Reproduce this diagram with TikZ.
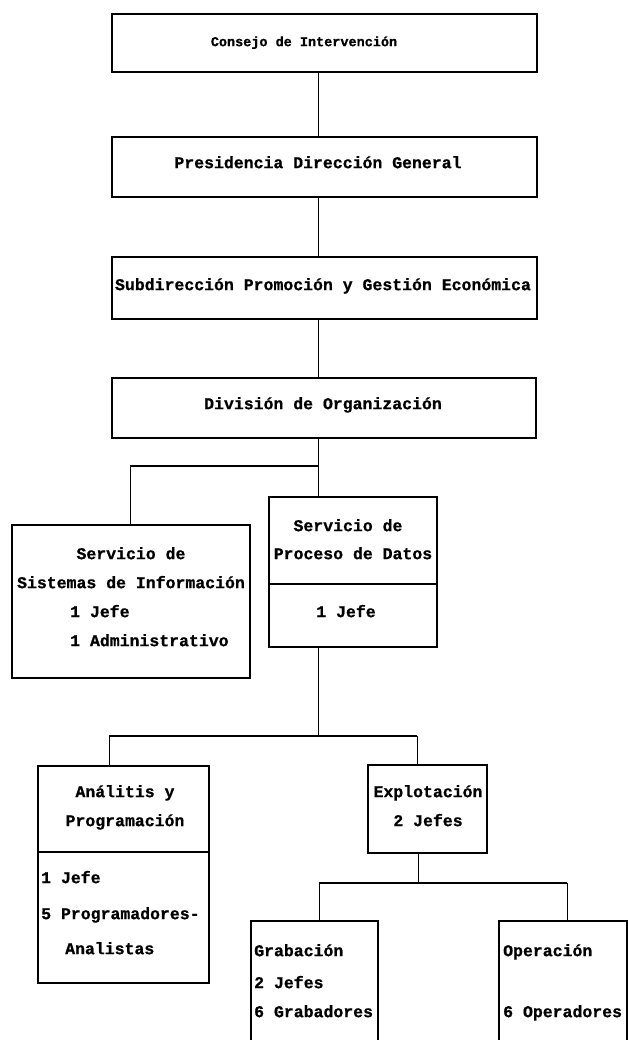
\documentclass[tikz,border=0pt]{standalone}
\usepackage{fontspec}
\setmonofont[FakeBold=0.8]{Liberation Mono}
\begin{document}
\begin{tikzpicture}[x=1pt,y=-1pt,
  box/.style={draw,line width=1.6pt,rectangle,inner sep=0pt},
  divline/.style={line width=1.6pt},
  conn/.style={line width=1pt},
  bar/.style={line width=2pt},
  txt/.style={inner sep=0pt,font=\ttfamily\bfseries\fontsize{16.5}{18}\selectfont},
  lt/.style={txt,anchor=mid west,yshift=-2pt},
  ct/.style={txt,anchor=mid,yshift=-2pt}]
\useasboundingbox (0,0) rectangle (628,1040);
\begin{scope}
\clip (0,0) rectangle (628,1040);
% boxes
\node[box,minimum width=425pt,minimum height=58pt] (cons) at (324.5,43) {};
\node[box,minimum width=425pt,minimum height=60pt] (pres) at (324.5,167) {};
\node[box,minimum width=425pt,minimum height=62pt] (subd) at (324.5,288) {};
\node[box,minimum width=424pt,minimum height=60pt] (divi) at (324,408) {};
\node[box,minimum width=238pt,minimum height=153pt] (sist) at (131,601.5) {};
\node[box,minimum width=168pt,minimum height=150pt] (proc) at (353,572) {};
\node[box,minimum width=171pt,minimum height=217pt] (anal) at (123.5,874.5) {};
\node[box,minimum width=119pt,minimum height=88pt] (expl) at (427.5,809) {};
\node[box,minimum width=127pt,minimum height=125pt] (grab) at (314.5,983.5) {};
\node[box,minimum width=128pt,minimum height=125pt] (oper) at (563,983.5) {};
% dividers
\coordinate (pdiv) at (0,584);
\draw[divline] (proc.west |- pdiv) -- (proc.east |- pdiv);
\coordinate (adiv) at (0,852);
\draw[divline] (anal.west |- adiv) -- (anal.east |- adiv);
% connectors
\coordinate (s1) at (318,0);
\draw[conn] (cons.south -| s1) -- (pres.north -| s1);
\draw[conn] (pres.south -| s1) -- (subd.north -| s1);
\draw[conn] (subd.south -| s1) -- (divi.north -| s1);
\draw[conn] (divi.south -| s1) -- (proc.north -| s1);
\coordinate (j1) at (318,466);
\coordinate (x1) at (130,0);
\draw[bar] (j1) -- (j1 -| x1);
\draw[conn] (j1 -| x1) -- (sist.north -| x1);
\coordinate (j2) at (318,736);
\draw[conn] (proc.south -| s1) -- (j2);
\coordinate (x2) at (109,0);
\coordinate (x3) at (417,0);
\draw[bar] (j2 -| x2) -- (j2 -| x3);
\draw[conn] (j2 -| x2) -- (anal.north -| x2);
\draw[conn] (j2 -| x3) -- (expl.north -| x3);
\coordinate (j3) at (418,883);
\draw[conn] (expl.south -| j3) -- (j3);
\coordinate (x4) at (319,0);
\coordinate (x5) at (567,0);
\draw[bar] (j3 -| x4) -- (j3 -| x5);
\draw[conn] (j3 -| x4) -- (grab.north -| x4);
\draw[conn] (j3 -| x5) -- (oper.north -| x5);
% texts
\node[ct,font=\ttfamily\bfseries\fontsize{13.5}{15}\selectfont] (t1) at (304,42) {Consejo de Intervención};
\node[ct] (t2) at (318,164) {Presidencia Dirección General};
\node[ct] (t3) at (323,286) {Subdirección Promoción y Gestión Económica};
\node[ct] (t4) at (323,405) {División de Organización};
\node[ct] (t5) at (131,555) {Servicio de};
\node[ct] (t6) at (131,584) {Sistemas de Información};
\node[lt] (t7) at (70,613) {1 Jefe};
\node[lt] (t8) at (70,642) {1 Administrativo};
\node[ct] (t9) at (348,527) {Servicio de};
\node[ct] (t10) at (353,555) {Proceso de Datos};
\node[ct] (t11) at (346,613) {1 Jefe};
\node[ct] (t12) at (125,793) {Análitis y};
\node[ct] (t13) at (125,822) {Programación};
\node[lt] (t14) at (41,879) {1 Jefe};
\node[lt] (t15) at (41,915) {5 Programadores-};
\node[lt] (t16) at (65,950) {Analistas};
\node[ct] (t17) at (428,793) {Explotación};
\node[ct] (t18) at (428,822) {2 Jefes};
\node[lt] (t19) at (254,952) {Grabación};
\node[lt] (t20) at (254,984) {2 Jefes};
\node[lt] (t21) at (254,1013) {6 Grabadores};
\node[lt] (t22) at (503,952) {Operación};
\node[lt] (t23) at (503,1013) {6 Operadores};
\end{scope}
\end{tikzpicture}
\end{document}
